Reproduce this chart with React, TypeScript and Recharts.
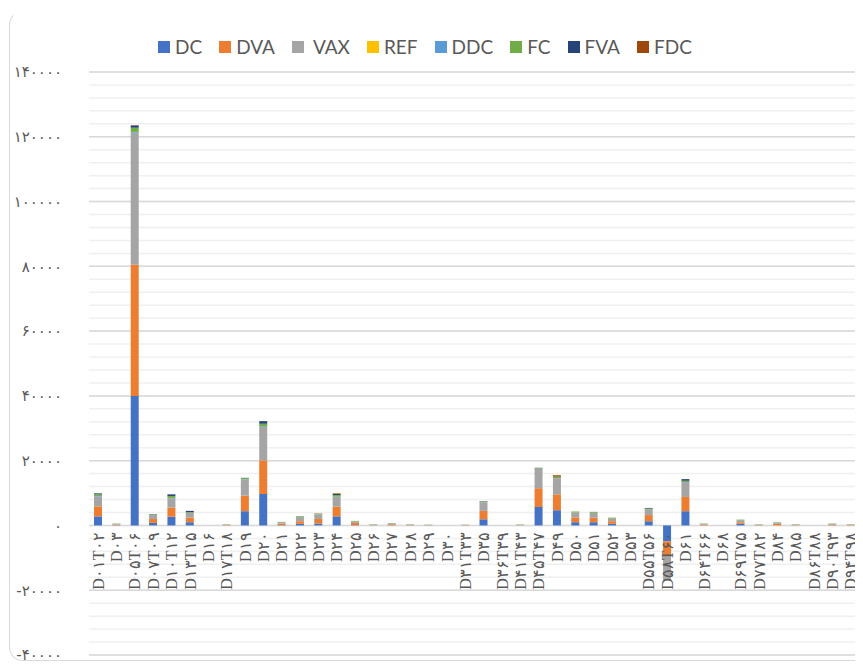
import React from "react";
import { BarChart, Bar, XAxis, YAxis, CartesianGrid } from "recharts";

const categories = [
  "D۰۱T۰۲", "D۰۳", "D۰۵T۰۶", "D۰۷T۰۹", "D۱۰T۱۲", "D۱۳T۱۵", "D۱۶", "D۱۷T۱۸",
  "D۱۹", "D۲۰", "D۲۱", "D۲۲", "D۲۳", "D۲۴", "D۲۵", "D۲۶", "D۲۷", "D۲۸", "D۲۹",
  "D۳۰", "D۳۱T۳۳", "D۳۵", "D۳۶T۳۹", "D۴۱T۴۳", "D۴۵T۴۷", "D۴۹", "D۵۰", "D۵۱",
  "D۵۲", "D۵۳", "D۵۵T۵۶", "D۵۸T۶۰", "D۶۱", "D۶۴T۶۶", "D۶۸", "D۶۹T۷۵", "D۷۷T۸۲",
  "D۸۴", "D۸۵", "D۸۶T۸۸", "D۹۰T۹۳", "D۹۴T۹۸",
];

const dc = [
  2800, 50, 40000, 800, 2700, 1000, 0, 0, 4400, 9700, 100, 500, 600, 2800, 100, 0, 50, 0, 0,
  0, 0, 1900, 0, 0, 5700, 4700, 1000, 1000, 500, 0, 1300, -4900, 4400, 0, 0, 500, 0,
  0, 0, 0, 0, 0,
];
const dva = [
  3100, 200, 40500, 1200, 2800, 1400, 0, 100, 4800, 10400, 500, 800, 1400, 3000, 700, 50, 300, 100, 50,
  0, 50, 2600, 0, 50, 5800, 4900, 1500, 1400, 800, 0, 1900, -4600, 4400, 200, 0, 500, 100,
  500, 100, 0, 200, 100,
];
const vax = [
  3100, 250, 40800, 1200, 2900, 1500, 0, 200, 4900, 10300, 400, 1100, 1400, 3000, 400, 200, 300, 200, 150,
  0, 150, 2600, 0, 200, 6000, 5000, 1500, 1500, 800, 0, 1700, -7000, 4600, 300, 0, 600, 200,
  400, 200, 0, 300, 200,
];
const ref = [
  0, 0, 0, 0, 0, 0, 0, 0, 0, 0, 0, 0, 0, 0, 0, 0, 0, 0, 0,
  0, 0, 0, 0, 0, 0, 0, 0, 0, 0, 0, 0, 0, 0, 0, 0, 0, 0,
  0, 0, 0, 0, 0,
];
const ddc = [
  100, 0, 200, 0, 100, 0, 0, 0, 100, 200, 0, 0, 0, 100, 0, 0, 0, 0, 0,
  0, 0, 0, 0, 0, 0, 0, 0, 0, 0, 0, 0, 0, 0, 0, 0, 0, 0,
  0, 0, 0, 0, 0,
];
const fc = [
  500, 100, 1300, 200, 600, 200, 0, 50, 400, 800, 100, 300, 200, 500, 200, 100, 100, 50, 50,
  0, 50, 300, 0, 50, 200, 400, 300, 300, 300, 0, 300, -300, 400, 100, 0, 200, 50,
  100, 50, 0, 100, 50,
];
const fva = [
  300, 0, 700, 100, 500, 400, 0, 0, 100, 800, 0, 100, 0, 300, 0, 0, 0, 0, 0,
  0, 0, 100, 0, 0, 100, 100, 0, 0, 0, 0, 200, 0, 500, 0, 0, 0, 0,
  0, 0, 0, 0, 0,
];
const fdc = [
  0, 0, 100, 0, 0, 0, 0, 0, 0, 0, 0, 0, 100, 200, 0, 0, 0, 0, 0,
  0, 0, 0, 0, 0, 0, 400, 0, 0, 0, 0, 0, 0, 0, 0, 0, 0, 0,
  0, 0, 0, 0, 0,
];

const seriesNames = ["DC", "DVA", "VAX", "REF", "DDC", "FC", "FVA", "FDC"];
const seriesColors = ["#4472C4", "#ED7D31", "#A5A5A5", "#FFC000", "#5B9BD5", "#70AD47", "#264478", "#9E480E"];
const seriesValues = [dc, dva, vax, ref, ddc, fc, fva, fdc];

const yMajorTicks = [-40000, -20000, 0, 20000, 40000, 60000, 80000, 100000, 120000, 140000];
const Y_MIN = -40000;
const Y_MAX = 140000;
const MINOR_STEP = 4000;

const minorTicks: number[] = [];
for (let v = Y_MIN; v <= Y_MAX; v += MINOR_STEP) minorTicks.push(v);

const data = categories.map((name, i) => {
  const row: Record<string, string | number> = { name };
  seriesNames.forEach((s, k) => {
    row[s] = seriesValues[k][i];
  });
  return row;
});

const CHART_W = 855;
const CHART_H = 655;
const MARGIN = { top: 64, right: 3, bottom: 7, left: 0 };
const X_AXIS_H = 1;
const PLOT_H = CHART_H - MARGIN.top - MARGIN.bottom - X_AXIS_H;
// distance from the bottom of the plot up to the zero line
const BELOW_ZERO = (PLOT_H * (0 - Y_MIN)) / (Y_MAX - Y_MIN);

const toPersian = (v: number | string) =>
  String(v).replace(/\d/g, (d) => "۰۱۲۳۴۵۶۷۸۹"[Number(d)]);

const CategoryTick = (props: any) => {
  const { x, y, payload } = props;
  const ty = y - BELOW_ZERO + 7;
  return (
    <text
      x={x}
      y={ty}
      transform={`rotate(-90, ${x}, ${ty})`}
      textAnchor="end"
      dy="0.35em"
      fontSize={16}
      fontFamily="'Liberation Serif', 'DejaVu Serif', serif"
      fill="#595959"
    >
      {payload.value}
    </text>
  );
};

const ChartLegend = () => (
  <div
    style={{
      position: "absolute",
      top: 29,
      left: 150,
      display: "flex",
      alignItems: "center",
      fontFamily: "Lato, 'Open Sans', sans-serif",
      fontSize: 19,
      color: "#595959",
      lineHeight: 1,
    }}
  >
    {seriesNames.map((s, k) => (
      <div key={s} style={{ display: "flex", alignItems: "center", marginRight: 17 }}>
        <span
          style={{
            width: 12,
            height: 12,
            background: seriesColors[k],
            display: "inline-block",
            marginRight: s === "VAX" ? 9 : 5,
          }}
        />
        <span>{s}</span>
      </div>
    ))}
  </div>
);

export default function App() {
  return (
    <div style={{ position: "relative", width: CHART_W, height: 660 }}>
      <style>{`html, body { overflow: hidden; }`}</style>
      <div
        style={{
          position: "absolute",
          left: 1,
          top: 3,
          width: 920,
          height: 650,
          border: "1.5px solid #d9d9d9",
          borderTopColor: "transparent",
          borderRadius: 14,
          boxSizing: "border-box",
        }}
      />
      <ChartLegend />
      <BarChart
        width={CHART_W}
        height={CHART_H}
        data={data}
        margin={MARGIN}
        barSize={8}
        style={{ position: "absolute", left: 0, top: 0 }}
      >
        <CartesianGrid
          vertical={false}
          horizontalValues={minorTicks}
          stroke="#f0f0f0"
          strokeWidth={1.5}
        />
        <CartesianGrid
          vertical={false}
          horizontalValues={yMajorTicks}
          stroke="#d9d9d9"
          strokeWidth={1.5}
        />
        <YAxis
          type="number"
          domain={[Y_MIN, Y_MAX]}
          ticks={yMajorTicks}
          interval={0}
          width={81}
          axisLine={false}
          tickLine={false}
          tickSize={0}
          tickMargin={27}
          tickFormatter={toPersian}
          tick={{ fontSize: 15, fill: "#595959", fontFamily: "'DejaVu Sans', sans-serif" }}
        />
        {seriesNames.map((s, k) => (
          <Bar key={s} dataKey={s} stackId="a" fill={seriesColors[k]} isAnimationActive={false} />
        ))}
        <XAxis
          dataKey="name"
          interval={0}
          height={X_AXIS_H}
          axisLine={false}
          tickLine={false}
          tickSize={0}
          tickMargin={0}
          tick={<CategoryTick />}
          zIndex={1000}
        />
      </BarChart>
    </div>
  );
}
